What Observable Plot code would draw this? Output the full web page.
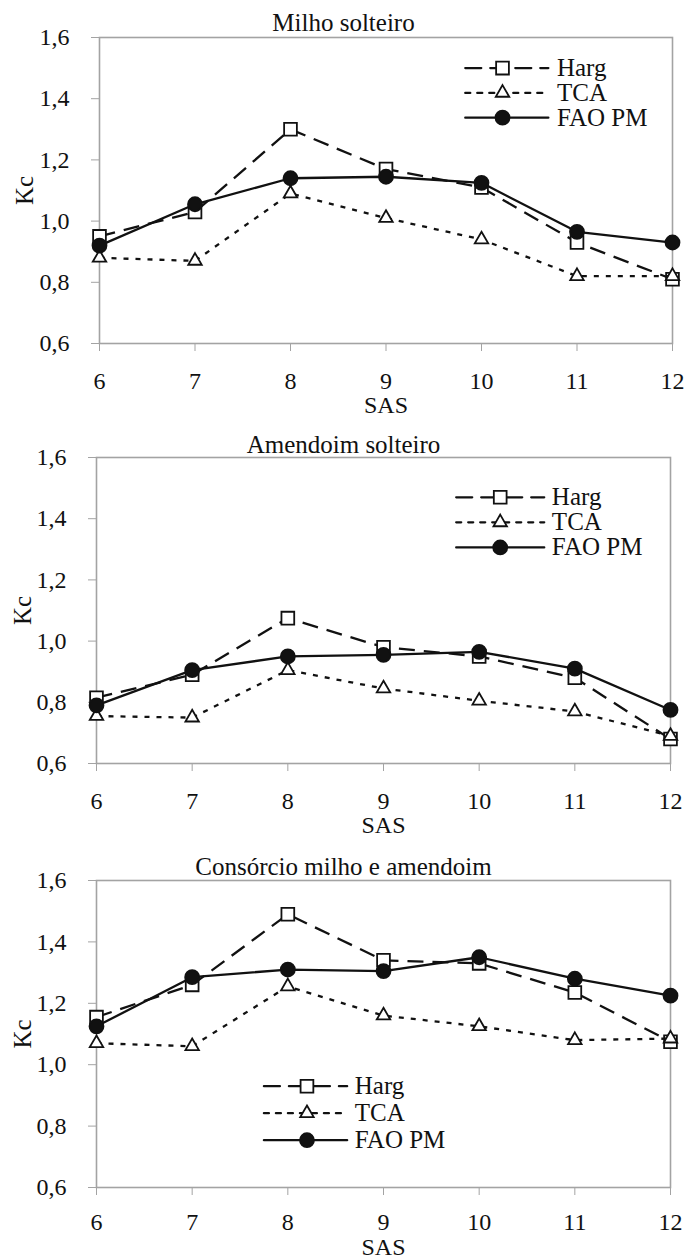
<!DOCTYPE html>
<html>
<head>
<meta charset="utf-8">
<script src="https://cdn.jsdelivr.net/npm/d3@7"></script>
<script src="https://cdn.jsdelivr.net/npm/@observablehq/plot@0.6"></script>
<style>
  html, body { margin: 0; padding: 0; background: #fff; }
  #charts { width: 686px; }
  #charts > div { height: 420px; overflow: hidden; }
  #charts svg, #charts svg text { font-family: "Liberation Serif", "Times New Roman", serif !important; }
</style>
</head>
<body>
<div id="charts"></div>
<script>
// ---- Data ----
const weeks = [6, 7, 8, 9, 10, 11, 12];          // SAS
const seriesNames = ["Harg", "TCA", "FAO PM"];
const yTicks = [0.6, 0.8, 1.0, 1.2, 1.4, 1.6];

const panelTitles = ["Milho solteiro", "Amendoim solteiro", "Consórcio milho e amendoim"];

// Milho solteiro
const milhoHarg = [0.95, 1.03, 1.30, 1.17, 1.11, 0.93, 0.81];
const milhoTCA  = [0.88, 0.87, 1.09, 1.01, 0.94, 0.82, 0.82];
const milhoFAO  = [0.92, 1.055, 1.14, 1.145, 1.125, 0.965, 0.93];

// Amendoim solteiro
const amendHarg = [0.815, 0.89, 1.075, 0.98, 0.95, 0.88, 0.68];
const amendTCA  = [0.755, 0.75, 0.905, 0.845, 0.805, 0.77, 0.69];
const amendFAO  = [0.79, 0.905, 0.95, 0.955, 0.965, 0.91, 0.775];

// Consórcio milho e amendoim
const consHarg = [1.155, 1.26, 1.49, 1.34, 1.33, 1.235, 1.075];
const consTCA  = [1.07, 1.06, 1.255, 1.16, 1.125, 1.08, 1.085];
const consFAO  = [1.125, 1.285, 1.31, 1.305, 1.35, 1.28, 1.225];

// ---- Styles & layout ----
const FONT = "Liberation Serif, Times New Roman, serif";
const FS = 24;
const AXIS_GRAY = "#a3a3a3";
const INK = "#111";
const seriesStyle = {
  "Harg":   {dash: "16,9", symbol: "square",   r: 7.2, fill: "#fff"},
  "TCA":    {dash: "5,7",  symbol: "triangle", r: 5.0, fill: "#fff"},
  "FAO PM": {dash: null,   symbol: "circle",   r: 7.0, fill: INK}
};

const panels = [
  {title: panelTitles[0], values: [milhoHarg, milhoTCA, milhoFAO],
   margin: {top: 37, bottom: 77, left: 99, right: 14}, titleY: 22, sasDy: 62, kcDx: -75, xPad: 20,
   legend: {x0: 9.83, xm: 10.22, x1: 10.70, xt: 10.79, y: 1.50, step: 0.081}},
  {title: panelTitles[1], values: [amendHarg, amendTCA, amendFAO],
   margin: {top: 37, bottom: 77, left: 96, right: 16}, titleY: 24, sasDy: 62, kcDx: -74, xPad: 20,
   legend: {x0: 9.76, xm: 10.22, x1: 10.68, xt: 10.76, y: 1.47, step: 0.082}},
  {title: panelTitles[2], values: [consHarg, consTCA, consFAO],
   margin: {top: 40, bottom: 73, left: 96, right: 16}, titleY: 26, sasDy: 60, kcDx: -74, xPad: 17,
   legend: {x0: 7.75, xm: 8.20, x1: 8.62, xt: 8.70, y: 0.93, step: 0.088}}
];

const fmt = d => d.toFixed(1).replace(".", ",");

function buildPanel(p) {
  const W = 686, H = 420;
  const rows = [];
  seriesNames.forEach((name, i) => {
    weeks.forEach((w, j) => rows.push({series: name, x: w, y: p.values[i][j]}));
  });
  const frameCx = (p.margin.left + (W - p.margin.right)) / 2;

  const marks = [
    Plot.frame({stroke: AXIS_GRAY, strokeWidth: 1.6}),
    Plot.axisX({ticks: weeks, tickFormat: d => String(d), tickSize: 8, tickPadding: p.xPad,
      stroke: AXIS_GRAY, fill: INK, fontSize: FS, label: null}),
    Plot.axisY({ticks: yTicks, tickFormat: fmt, tickSize: 8, tickPadding: 22,
      stroke: AXIS_GRAY, fill: INK, fontSize: FS, label: null})
  ];

  // data series (line + markers), drawn series by series
  seriesNames.forEach(name => {
    const st = seriesStyle[name];
    const data = rows.filter(d => d.series === name);
    marks.push(Plot.line(data, {x: "x", y: "y", stroke: INK, strokeWidth: 2.3,
      strokeDasharray: st.dash, strokeLinecap: "butt"}));
    marks.push(Plot.dot(data, {x: "x", y: "y", symbol: () => st.symbol, r: st.r,
      fill: st.fill, stroke: INK, strokeWidth: 1.8}));
  });

  // legend (placed in data units within the frame)
  const L = p.legend;
  seriesNames.forEach((name, i) => {
    const st = seriesStyle[name];
    const yy = L.y - i * L.step;
    marks.push(Plot.line([{x: L.x0, y: yy}, {x: L.x1, y: yy}], {x: "x", y: "y",
      stroke: INK, strokeWidth: 2.3, strokeDasharray: st.dash}));
    marks.push(Plot.dot([{x: L.xm, y: yy}], {x: "x", y: "y", symbol: () => st.symbol,
      r: st.r, fill: st.fill, stroke: INK, strokeWidth: 1.8}));
    marks.push(Plot.text([name], {x: () => L.xt, y: () => yy, text: d => d,
      textAnchor: "start", lineAnchor: "middle", fill: INK, fontSize: FS + 1}));
  });

  // title, axis labels
  marks.push(Plot.text([p.title], {frameAnchor: "top", dy: p.titleY - p.margin.top,
    dx: W / 2 - frameCx, lineAnchor: "middle", fontSize: FS + 1, fill: INK}));
  marks.push(Plot.text(["SAS"], {frameAnchor: "bottom", dy: p.sasDy,
    lineAnchor: "middle", fontSize: FS, fill: INK}));
  marks.push(Plot.text(["Kc"], {frameAnchor: "left", dx: p.kcDx, rotate: -90,
    lineAnchor: "middle", textAnchor: "middle", fontSize: FS + 1, fill: INK}));

  const svg = Plot.plot({
    width: W, height: H,
    marginTop: p.margin.top, marginBottom: p.margin.bottom,
    marginLeft: p.margin.left, marginRight: p.margin.right,
    style: {background: "#fff", color: INK},
    x: {domain: [6, 12]},
    y: {domain: [0.6, 1.6]},
    marks
  });
  svg.setAttribute("font-family", FONT);
  svg.setAttribute("font-size", FS);
  svg.style.fontFamily = FONT;
  return svg;
}

const container = document.getElementById("charts");
panels.forEach(p => {
  const div = document.createElement("div");
  div.appendChild(buildPanel(p));
  container.appendChild(div);
});
</script>
</body>
</html>
